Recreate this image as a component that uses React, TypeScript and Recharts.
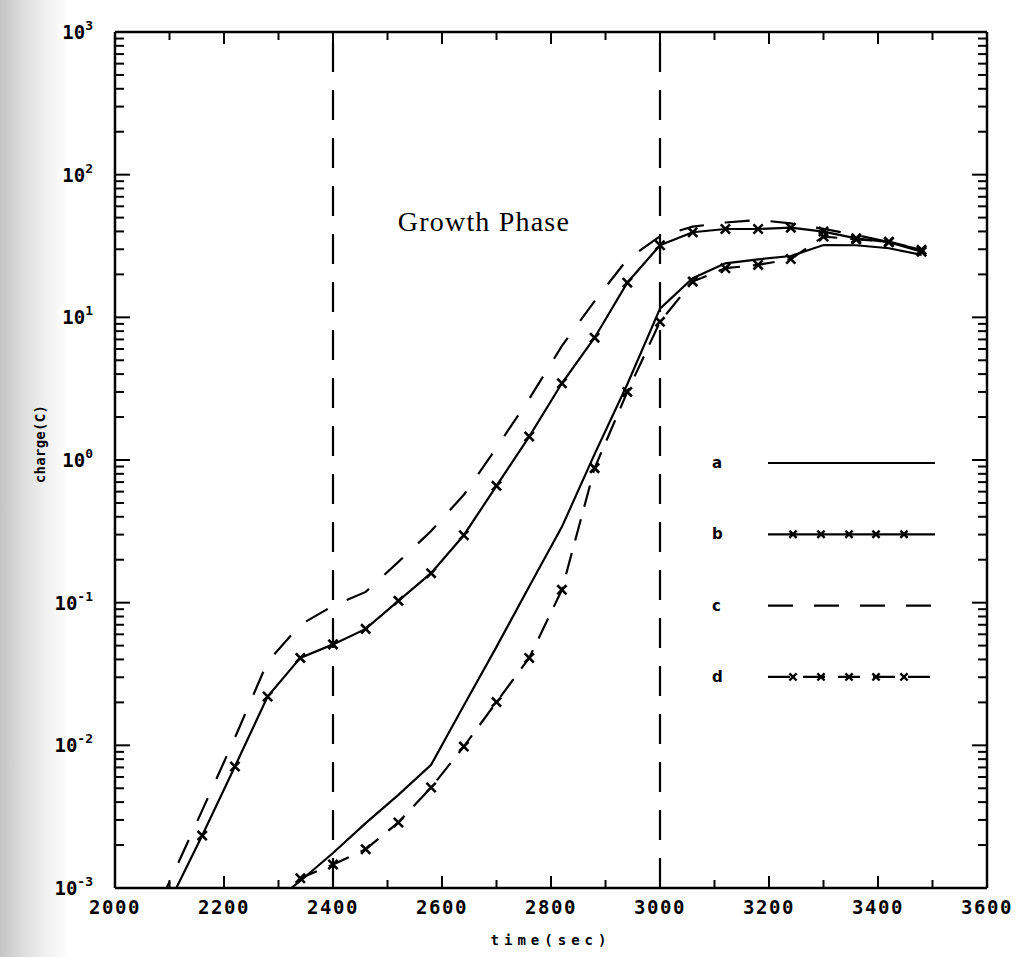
import React from 'react';
import { LineChart, Line, XAxis, YAxis, ReferenceLine, ReferenceDot, Legend, Label } from 'recharts';

// ---------- data ----------
const times = [2040, 2100, 2160, 2220, 2280, 2340, 2400, 2460, 2520, 2580, 2640, 2700, 2760, 2820, 2880, 2940, 3000, 3060, 3120, 3180, 3240, 3300, 3360, 3420, 3480];
const seriesA = [null, null, null, null, 7.4e-4, 1.12e-3, 1.76e-3, 2.85e-3, 4.5e-3, 7.3e-3, 0.019, 0.049, 0.13, 0.34, 1.1, 3.4, 11.5, 18.8, 23.9, 25.5, 26.9, 32.1, 32, 30.5, 27.4];
const seriesB = [null, 8e-4, 2.33e-3, 7.1e-3, 0.022, 0.041, 0.051, 0.0655, 0.103, 0.161, 0.297, 0.659, 1.46, 3.45, 7.2, 17.5, 32, 39.5, 41.6, 41.6, 42.5, 39.9, 35.8, 33.6, 28.8];
const seriesC = [4e-4, 1.1e-3, 3.5e-3, 0.0113, 0.0385, 0.07, 0.095, 0.119, 0.193, 0.318, 0.57, 1.22, 2.68, 6.3, 13, 25.5, 37, 43.2, 46.2, 48.2, 45.5, 41.7, 37.8, 33.7, 29.7];
const seriesD = [null, null, null, null, 4e-4, 1.17e-3, 1.46e-3, 1.87e-3, 2.88e-3, 5.06e-3, 9.8e-3, 0.0201, 0.041, 0.123, 0.877, 3.0, 9.3, 17.8, 22.1, 23.3, 25.6, 36.8, 35.2, 33.9, 29.7];

const xTicks = [2000, 2100, 2200, 2300, 2400, 2500, 2600, 2700, 2800, 2900, 3000, 3100, 3200, 3300, 3400, 3500, 3600];
const xLabelTicks = [2000, 2200, 2400, 2600, 2800, 3000, 3200, 3400, 3600];
const yExponents = [-3, -2, -1, 0, 1, 2, 3];
const yMinorMultipliers = [2, 3, 4, 5, 6, 7, 8, 9];
const phaseBoundaries = [2400, 3000];
const annotationText = 'Growth Phase';
const annotationAt = { t: 2677, q: 46.7 };
const seriesNames = ['a', 'b', 'c', 'd'];

const X_MIN = 2000, X_MAX = 3600, Y_MIN = 1e-3, Y_MAX = 1e3;

const data = times.map((t, i) => ({ t, a: seriesA[i], b: seriesB[i], c: seriesC[i], d: seriesD[i] }));
const yTicks: number[] = [];
yExponents.forEach((e) => {
  yTicks.push(Math.pow(10, e));
  if (e < 3) yMinorMultipliers.forEach((m) => yTicks.push(m * Math.pow(10, e)));
});

// ---------- layout ----------
const W = 1023, H = 957;
const PLOT_W = 872, PLOT_H = 856;
const MONO = '"DejaVu Sans Mono", "Liberation Mono", monospace';

const STYLE: Record<string, { dash?: string; marker?: boolean }> = {
  a: { marker: false },
  b: { marker: true },
  c: { dash: '25 21' },
  d: { dash: '22 13', marker: true },
};

const xPath = (cx: number, cy: number, s: number) =>
  `M${cx - s},${cy - s}L${cx + s},${cy + s}M${cx - s},${cy + s}L${cx + s},${cy - s}`;

const makeDot = (key: string) => (props: any) => {
  const { cx, cy, index, payload } = props;
  const v = payload ? payload[key] : null;
  if (cx == null || cy == null || v == null || v < Y_MIN) return <g key={`${key}-${index}`} />;
  return (
    <path key={`${key}-${index}`} d={xPath(cx, cy, 4.6)} stroke="#000" strokeWidth={2.6} strokeDasharray="none" fill="none" />
  );
};

const YTick = (props: any) => {
  const { x, y, payload } = props;
  const v = payload.value;
  const e = Math.round(Math.log10(v));
  const major = Math.abs(v / Math.pow(10, e) - 1) < 1e-6;
  const len = major ? 15 : 9;
  return (
    <g>
      <line x1={x} x2={x + len} y1={y} y2={y} stroke="#000" strokeWidth={2} />
      <line x1={x + PLOT_W} x2={x + PLOT_W - len} y1={y} y2={y} stroke="#000" strokeWidth={2} />
      {major && (
        <text x={x - 22} y={y + 7} textAnchor="end" fontFamily={MONO} fontWeight="bold" fontSize={19} fill="#000">
          10<tspan dy={-9} fontSize={13}>{String(e)}</tspan>
        </text>
      )}
    </g>
  );
};

const XTick = (props: any) => {
  const { x, y, payload } = props;
  const v = payload.value;
  const major = xLabelTicks.includes(v);
  const len = major ? 12 : 8;
  return (
    <g>
      <line x1={x} x2={x} y1={y} y2={y - len} stroke="#000" strokeWidth={2} />
      <line x1={x} x2={x} y1={y - PLOT_H} y2={y - PLOT_H + len} stroke="#000" strokeWidth={2} />
      {major && (
        <text x={x} y={y + 26} textAnchor="middle" fontFamily={MONO} fontWeight="bold" fontSize={19} letterSpacing={1.5} fill="#000">
          {String(v)}
        </text>
      )}
    </g>
  );
};

const LegendContent = (props: any) => {
  const payload = props.payload || [];
  const names = payload.length ? payload.map((p: any) => p.dataKey) : seriesNames;
  const x0 = 68, x1 = 235, rowH = 71.3;
  return (
    <svg width={260} height={300} style={{ overflow: 'visible' }}>
      {names.map((k: string, i: number) => {
        const cy = 20 + i * rowH;
        const st = STYLE[k];
        const marks = st.marker ? [25, 53, 81, 108, 136] : [];
        return (
          <g key={k}>
            <text x={12} y={cy + 5} fontFamily='"DejaVu Sans", sans-serif' fontWeight="bold" fontSize={15} fill="#000">{k}</text>
            <line x1={x0} x2={x1} y1={cy} y2={cy} stroke="#000" strokeWidth={2.2} strokeDasharray={st.dash || 'none'} />
            {marks.map((m) => (
              <path key={m} d={xPath(x0 + m, cy, 3.6)} stroke="#000" strokeWidth={2.4} fill="none" />
            ))}
          </g>
        );
      })}
    </svg>
  );
};

export default function App() {
  return (
    <div
      style={{
        position: 'absolute', left: 0, top: 0, width: W, height: H,
        background: 'linear-gradient(to right, #c4c4c4 0px, #dcdcdc 22px, #efefef 45px, #ffffff 68px)',
      }}
    >
      <LineChart width={W} height={H} data={data} margin={{ top: 32, right: 36, bottom: 39, left: 55 }}>
        <XAxis
          dataKey="t" type="number" domain={[X_MIN, X_MAX]} ticks={xTicks} allowDataOverflow
          height={30} tickSize={0} tickMargin={0} tickLine={false}
          axisLine={{ stroke: '#000', strokeWidth: 2.5 }} tick={<XTick />} interval={0}
        >
          <Label
            content={(p: any) => {
              const vb = p.viewBox || { x: 115, y: 888, width: PLOT_W };
              return (
                <text x={vb.x + vb.width / 2} y={vb.y + 57} textAnchor="middle" fontFamily={MONO} fontWeight="bold" fontSize={14} letterSpacing={5} fill="#000">
                  time(sec)
                </text>
              );
            }}
          />
        </XAxis>
        <YAxis
          type="number" scale="log" domain={[Y_MIN, Y_MAX]} ticks={yTicks} allowDataOverflow
          width={60} tickSize={0} tickMargin={0} tickLine={false}
          axisLine={{ stroke: '#000', strokeWidth: 2.5 }} tick={<YTick />} interval={0}
        >
          <Label
            content={(p: any) => {
              const vb = p.viewBox || { x: 55, y: 32, width: 60, height: PLOT_H };
              const cx = 40, cy = vb.y + vb.height / 2 - 16;
              return (
                <text x={cx} y={cy} transform={`rotate(-90 ${cx} ${cy})`} textAnchor="middle" dominantBaseline="central" fontFamily={MONO} fontWeight="bold" fontSize={14} letterSpacing={0.3} fill="#000">
                  charge(C)
                </text>
              );
            }}
          />
        </YAxis>

        <ReferenceLine y={Y_MAX} stroke="#000" strokeWidth={2.5} />
        <ReferenceLine x={X_MAX} stroke="#000" strokeWidth={2.5} />
        {phaseBoundaries.map((b) => (
          <ReferenceLine key={b} x={b} stroke="#000" strokeWidth={2.2} strokeDasharray="30 18" />
        ))}

        <ReferenceDot
          x={annotationAt.t} y={annotationAt.q} r={0} fill="none" stroke="none"
          label={
            <Label
              content={(p: any) => {
                const vb = p.viewBox || { x: 0, y: 0 };
                return (
                  <text x={vb.x} y={vb.y + 9} textAnchor="middle" fontFamily='"Liberation Serif", "Times New Roman", serif' fontSize={28} letterSpacing={1.2} fill="#000">
                    {annotationText}
                  </text>
                );
              }}
            />
          }
        />

        <Line dataKey="a" name="a" stroke="#000" strokeWidth={2.2} dot={false} isAnimationActive={false} />
        <Line dataKey="b" name="b" stroke="#000" strokeWidth={2.2} dot={makeDot('b')} isAnimationActive={false} />
        <Line dataKey="c" name="c" stroke="#000" strokeWidth={2.2} strokeDasharray={STYLE.c.dash} dot={false} isAnimationActive={false} />
        <Line dataKey="d" name="d" stroke="#000" strokeWidth={2.2} strokeDasharray={STYLE.d.dash} dot={makeDot('d')} isAnimationActive={false} />

        <Legend
          layout="vertical" align="center" verticalAlign="middle"
          content={<LegendContent />}
          wrapperStyle={{ left: 700, top: 443, width: 260, height: 300 }}
        />
      </LineChart>
    </div>
  );
}
